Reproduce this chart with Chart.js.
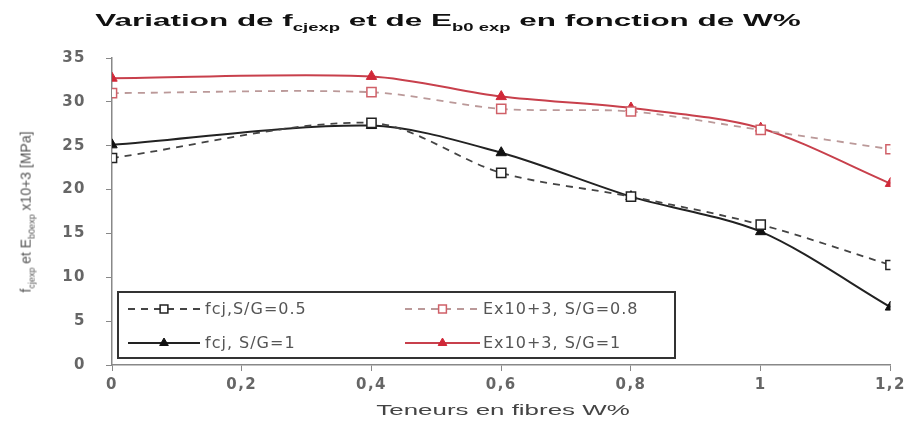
<!DOCTYPE html>
<html lang="fr">
<head>
    <meta charset="UTF-8">
    <title>Variation de fcjexp et de Eb0exp en fonction de W%</title>
    <script src="https://cdn.jsdelivr.net/npm/chart.js"></script>
    <style>
        body {
            margin: 0;
            background: #fff;
            font-family: Arial, "Liberation Sans", sans-serif;
        }

        #wrap {
            position: relative;
            width: 911px;
            height: 427px;
        }

        .lbl {
            position: absolute;
            white-space: nowrap;
        }

        #title {
            left: 448px;
            top: 22px;
            transform: translate(-50%, -50%) scaleX(1.85);
            font-weight: bold;
            font-size: 17px;
            color: #111;
        }

        #title sub {
            font-size: 10px;
        }

        #xtitle {
            left: 503px;
            top: 410px;
            transform: translate(-50%, -50%) scaleX(1.85);
            font-size: 14px;
            color: #444;
        }

        #ytitle {
            left: 27px;
            top: 212px;
            transform: translate(-50%, -50%) rotate(-90deg);
            font-size: 14px;
            font-weight: normal;
            color: #555;
        }

        #ytitle sub {
            font-size: 9px;
        }
    </style>
</head>
<body>
    <div id="wrap">
        <canvas id="chart" width="911" height="427"></canvas>
        <div class="lbl" id="title">Variation de f<sub>cjexp</sub> et de E<sub>b0 exp</sub> en fonction de W%</div>
        <div class="lbl" id="xtitle">Teneurs en fibres W%</div>
        <div class="lbl" id="ytitle">f<sub>cjexp</sub> et E<sub>b0exp</sub> x10+3 [MPa]</div>
    </div>

    <script>
        // teneur en fibres W%
        const wValues = [0, 0.4, 0.6, 0.8, 1, 1.2];
        const fcj08 = [23.6, 27.6, 21.9, 19.2, 16.0, 11.4];
        const fcj1 = [25.1, 27.3, 24.2, 19.2, 15.2, 6.6];
        const e08 = [31.0, 31.1, 29.2, 28.9, 26.8, 24.6];
        const e1 = [32.7, 32.9, 30.6, 29.3, 27.0, 20.7];

        const xTicks = [0, 0.2, 0.4, 0.6, 0.8, 1, 1.2];
        const xTickLabels = ['0', '0,2', '0,4', '0,6', '0,8', '1', '1,2'];
        const yTicks = [0, 5, 10, 15, 20, 25, 30, 35];

        const seriesNames = ['fcj,S/G=0.5', 'Ex10+3, S/G=0.8', 'fcj, S/G=1', 'Ex10+3, S/G=1'];

        const tickFont = { size: 15, family: '"DejaVu Sans", Arial, sans-serif', weight: 'bold' };

        function pts(vals) {
            return wValues.map((w, i) => ({ x: w, y: vals[i] }));
        }

        const datasets = [
            {
                label: seriesNames[0], data: pts(fcj08),
                borderColor: '#444', borderWidth: 1.8, borderDash: [7, 6],
                pointStyle: 'rect', pointRadius: 6.5, pointBackgroundColor: '#fff',
                pointBorderColor: '#222', pointBorderWidth: 1.5
            },
            {
                label: seriesNames[1], data: pts(e08),
                borderColor: '#b99', borderWidth: 1.8, borderDash: [7, 6],
                pointStyle: 'rect', pointRadius: 6.5, pointBackgroundColor: '#fff',
                pointBorderColor: '#d06068', pointBorderWidth: 1.5
            },
            {
                label: seriesNames[2], data: pts(fcj1),
                borderColor: '#222', borderWidth: 2,
                pointStyle: 'triangle', pointRadius: 6, pointBackgroundColor: '#111',
                pointBorderColor: '#111', pointBorderWidth: 1
            },
            {
                label: seriesNames[3], data: pts(e1),
                borderColor: '#c8404c', borderWidth: 2,
                pointStyle: 'triangle', pointRadius: 6, pointBackgroundColor: '#d02838',
                pointBorderColor: '#d02838', pointBorderWidth: 1
            }
        ];

        // the picture's text is stretched sideways, so widen canvas text a little
        const wideText = {
            id: 'wideText',
            beforeUpdate(chart) { chart.ctx.letterSpacing = '1.5px'; },
            beforeDraw(chart) { chart.ctx.letterSpacing = '1.5px'; }
        };

        // legend drawn inside the plot, framed, two columns
        const boxLegend = {
            id: 'boxLegend',
            afterDraw(chart) {
                const ctx = chart.ctx;
                ctx.save();
                ctx.setLineDash([]);
                ctx.strokeStyle = '#333';
                ctx.lineWidth = 2;
                ctx.strokeRect(118, 292, 557, 66);
                const cols = [[128, 200, 205], [405, 480, 483]];
                const rows = [309, 343];
                chart.data.datasets.forEach((ds, k) => {
                    const c = cols[k % 2];
                    const y = rows[Math.floor(k / 2)];
                    ctx.strokeStyle = ds.borderColor;
                    ctx.lineWidth = ds.borderWidth;
                    ctx.setLineDash(ds.borderDash || []);
                    ctx.beginPath();
                    ctx.moveTo(c[0], y);
                    ctx.lineTo(c[1], y);
                    ctx.stroke();
                    ctx.setLineDash([]);
                    ctx.fillStyle = ds.pointBackgroundColor;
                    ctx.strokeStyle = ds.pointBorderColor;
                    ctx.lineWidth = ds.pointBorderWidth;
                    Chart.helpers.drawPoint(ctx, {
                        pointStyle: ds.pointStyle, radius: ds.pointRadius - 1,
                        borderWidth: ds.pointBorderWidth, rotation: 0
                    }, (c[0] + c[1]) / 2, y);
                    ctx.fillStyle = '#555';
                    ctx.font = '16px "DejaVu Sans", Arial, sans-serif';
                    ctx.letterSpacing = '1px';
                    ctx.textBaseline = 'middle';
                    ctx.textAlign = 'left';
                    ctx.fillText(ds.label, c[2], y + 1);
                });
                ctx.restore();
            }
        };

        const ctx = document.getElementById('chart').getContext('2d');
        new Chart(ctx, {
            type: 'line',
            data: { datasets: datasets },
            plugins: [wideText, boxLegend],
            options: {
                responsive: false,
                animation: false,
                layout: { padding: { left: 0, right: 20, top: 58, bottom: 0 } },
                elements: { line: { tension: 0.3 } },
                plugins: {
                    legend: { display: false },
                    tooltip: { enabled: false }
                },
                scales: {
                    x: {
                        type: 'linear',
                        min: 0, max: 1.2,
                        afterBuildTicks(scale) {
                            scale.ticks = xTicks.map(v => ({ value: v }));
                        },
                        afterFit(scale) { scale.height = 62; },
                        ticks: {
                            callback: (v) => xTickLabels[xTicks.findIndex(t => Math.abs(t - v) < 1e-9)],
                            color: '#666',
                            font: tickFont,
                            padding: 5,
                            maxRotation: 0
                        },
                        grid: { drawOnChartArea: false, color: '#888', tickLength: 6 },
                        border: { color: '#888', width: 1.5 }
                    },
                    y: {
                        min: 0, max: 35,
                        afterBuildTicks(scale) {
                            scale.ticks = yTicks.map(v => ({ value: v }));
                        },
                        afterFit(scale) { scale.width = 112; },
                        ticks: {
                            color: '#666',
                            font: tickFont,
                            padding: 20
                        },
                        grid: { drawOnChartArea: false, color: '#888', tickLength: 6 },
                        border: { color: '#888', width: 1.5 }
                    }
                }
            }
        });
    </script>
</body>
</html>
